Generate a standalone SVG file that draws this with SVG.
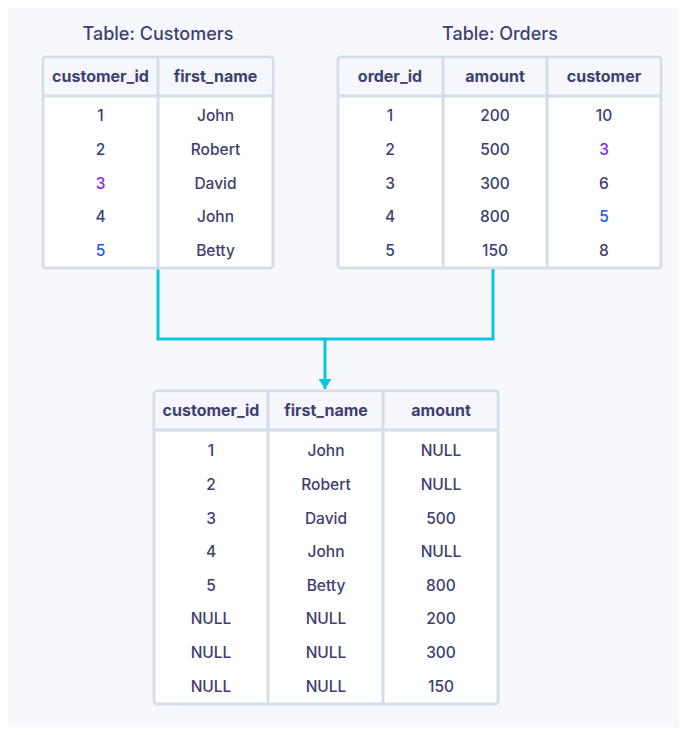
<svg xmlns="http://www.w3.org/2000/svg" width="687" height="735" viewBox="0 0 687 735">
  <style>
    .title { font-family: Inter, "Liberation Sans", sans-serif; font-size: 18px; font-weight: 500; fill: #3d4070; text-anchor: middle; }
    .hd { font-family: Inter, "Liberation Sans", sans-serif; font-size: 16px; font-weight: 700; fill: #3d4070; text-anchor: middle; }
    .cell { font-family: Inter, "Liberation Sans", sans-serif; font-size: 15.5px; font-weight: 500; fill: #3d4070; text-anchor: middle; }
    .frame { fill: #ffffff; stroke: #d5dde8; stroke-width: 3; }
    .head { fill: #f5f7fd; }
    .grid { stroke: #d5dde8; stroke-width: 3; fill: none; }
    .purple { fill: #8d25f0; }
    .blue { fill: #1a5cf2; }
    .link { stroke: #0ac6da; stroke-width: 3; fill: none; }
  </style>
  <defs>
    <marker id="arrow" viewBox="0 0 10 13" refX="10" refY="6.5" markerWidth="10" markerHeight="13" markerUnits="userSpaceOnUse" orient="auto">
      <path d="M0,0 L10,6.5 L0,13 Z" fill="#0ac6da"/>
    </marker>
  </defs>

  <rect x="0" y="0" width="687" height="735" fill="#ffffff"/>
  <rect x="8" y="8" width="671" height="719" fill="#f7f8fe"/>

  <!-- connectors -->
  <g id="connectors">
    <polyline class="link" points="158,269 158,339 493,339 493,269"/>
    <line class="link" x1="325" y1="339" x2="325" y2="389" marker-end="url(#arrow)"/>
  </g>

  <!-- Customers table -->
  <g id="customers">
    <text class="title" x="158" y="40">Table: Customers</text>
    <rect class="frame" x="43" y="57" width="230" height="211" rx="3"/>
    <rect class="head" x="44.5" y="58.5" width="227" height="37"/>
    <line class="grid" x1="43" y1="96" x2="273" y2="96"/>
    <line class="grid" x1="158" y1="57" x2="158" y2="268"/>
    <text class="hd" x="100.5" y="82">customer_id</text>
    <text class="hd" x="215.5" y="82">first_name</text>
    <text class="cell" x="100.5" y="121">1</text>
    <text class="cell" x="100.5" y="155">2</text>
    <text class="cell purple" x="100.5" y="189">3</text>
    <text class="cell" x="100.5" y="222">4</text>
    <text class="cell blue" x="100.5" y="256">5</text>
    <text class="cell" x="215.5" y="121">John</text>
    <text class="cell" x="215.5" y="155">Robert</text>
    <text class="cell" x="215.5" y="189">David</text>
    <text class="cell" x="215.5" y="222">John</text>
    <text class="cell" x="215.5" y="256">Betty</text>
  </g>

  <!-- Orders table -->
  <g id="orders">
    <text class="title" x="500" y="40">Table: Orders</text>
    <rect class="frame" x="338" y="57" width="323" height="211" rx="3"/>
    <rect class="head" x="339.5" y="58.5" width="320" height="37"/>
    <line class="grid" x1="338" y1="96" x2="661" y2="96"/>
    <line class="grid" x1="443" y1="57" x2="443" y2="268"/>
    <line class="grid" x1="547" y1="57" x2="547" y2="268"/>
    <text class="hd" x="390" y="82">order_id</text>
    <text class="hd" x="495" y="82">amount</text>
    <text class="hd" x="604" y="82">customer</text>
    <text class="cell" x="390" y="121">1</text>
    <text class="cell" x="390" y="155">2</text>
    <text class="cell" x="390" y="189">3</text>
    <text class="cell" x="390" y="222">4</text>
    <text class="cell" x="390" y="256">5</text>
    <text class="cell" x="495" y="121">200</text>
    <text class="cell" x="495" y="155">500</text>
    <text class="cell" x="495" y="189">300</text>
    <text class="cell" x="495" y="222">800</text>
    <text class="cell" x="495" y="256">150</text>
    <text class="cell" x="604" y="121">10</text>
    <text class="cell purple" x="604" y="155">3</text>
    <text class="cell" x="604" y="189">6</text>
    <text class="cell blue" x="604" y="222">5</text>
    <text class="cell" x="604" y="256">8</text>
  </g>

  <!-- Joined result table -->
  <g id="result">
    <rect class="frame" x="154" y="391" width="344" height="313" rx="3"/>
    <rect class="head" x="155.5" y="392.5" width="341" height="37"/>
    <line class="grid" x1="154" y1="430" x2="498" y2="430"/>
    <line class="grid" x1="268" y1="391" x2="268" y2="704"/>
    <line class="grid" x1="383" y1="391" x2="383" y2="704"/>
    <text class="hd" x="211" y="416">customer_id</text>
    <text class="hd" x="326" y="416">first_name</text>
    <text class="hd" x="441" y="416">amount</text>
    <text class="cell" x="211" y="456">1</text>
    <text class="cell" x="211" y="490">2</text>
    <text class="cell" x="211" y="524">3</text>
    <text class="cell" x="211" y="557">4</text>
    <text class="cell" x="211" y="591">5</text>
    <text class="cell" x="211" y="624">NULL</text>
    <text class="cell" x="211" y="658">NULL</text>
    <text class="cell" x="211" y="692">NULL</text>
    <text class="cell" x="326" y="456">John</text>
    <text class="cell" x="326" y="490">Robert</text>
    <text class="cell" x="326" y="524">David</text>
    <text class="cell" x="326" y="557">John</text>
    <text class="cell" x="326" y="591">Betty</text>
    <text class="cell" x="326" y="624">NULL</text>
    <text class="cell" x="326" y="658">NULL</text>
    <text class="cell" x="326" y="692">NULL</text>
    <text class="cell" x="441" y="456">NULL</text>
    <text class="cell" x="441" y="490">NULL</text>
    <text class="cell" x="441" y="524">500</text>
    <text class="cell" x="441" y="557">NULL</text>
    <text class="cell" x="441" y="591">800</text>
    <text class="cell" x="441" y="624">200</text>
    <text class="cell" x="441" y="658">300</text>
    <text class="cell" x="441" y="692">150</text>
  </g>
</svg>
